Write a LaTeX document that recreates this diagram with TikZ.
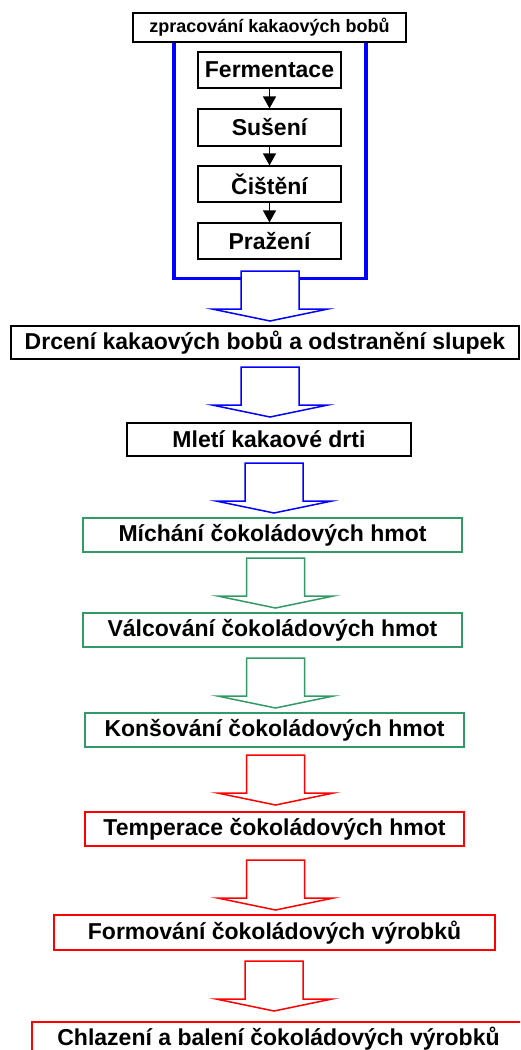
\documentclass[tikz,border=0pt]{standalone}
\usepackage{fontspec}
\setmainfont{Liberation Sans}
\usetikzlibrary{arrows.meta}
\definecolor{pgreen}{RGB}{51,153,102}
\begin{document}
\begin{tikzpicture}[x=1pt,y=-1pt,
  box/.style={draw, fill=white, inner sep=0pt, line width=1.2pt, font=\fontsize{23}{27}\selectfont\bfseries},
  gbox/.style={box, draw=pgreen, line width=2pt},
  rbox/.style={box, draw=red, line width=2pt},
  small/.style={-{Triangle[width=13pt,length=12pt]}, line width=1.4pt},
  frame/.style={draw=blue, line width=3.2pt},
]
\clip (0,0) rectangle (520,1050);
\fill[white] (0,0) rectangle (520,1050);
\newcommand{\barrow}[3]{%
  \draw[#3, line width=1.5pt, fill=white, line join=miter]
    (#1-29,#2) -- (#1+29,#2) -- (#1+29,#2+38) -- (#1+58,#2+38) -- (#1,#2+50)
    -- (#1-58,#2+38) -- (#1-29,#2+38) -- cycle;}
% frame
\draw[frame] (174,42) -- (174,278.5) -- (366,278.5) -- (366,42);
\node[box, minimum width=273pt, minimum height=29pt, font=\fontsize{18}{21}\selectfont\bfseries] (title) at (269.5,27.5) {zpracování kakaových bobů};
\node[box, minimum width=143pt, minimum height=36pt] (ferm) at (269.5,70) {Fermentace};
\node[box, minimum width=143pt, minimum height=37pt] (suse) at (269.5,127.5) {Sušení};
\node[box, minimum width=143pt, minimum height=36pt] (cist) at (269.5,184) {Čištění};
\node[box, minimum width=143pt, minimum height=36pt] (praz) at (269.5,241) {Pražení};
\draw[small] (ferm) -- (suse);
\draw[small] (suse) -- (cist);
\draw[small] (cist) -- (praz);
% main boxes
\node[box, minimum width=508pt, minimum height=33pt] (drc) at (265,342.5) {Drcení kakaových bobů a odstranění slupek};
\node[box, minimum width=284pt, minimum height=33pt] (mle) at (269,439.5) {Mletí kakaové drti};
\node[gbox, minimum width=379pt, minimum height=34pt] (mic) at (272.5,535) {Míchání čokoládových hmot};
\node[gbox, minimum width=379pt, minimum height=34pt] (val) at (272.5,630) {Válcování čokoládových hmot};
\node[gbox, minimum width=379pt, minimum height=34pt] (kon) at (274.5,730) {Konšování čokoládových hmot};
\node[rbox, minimum width=379pt, minimum height=34pt] (tem) at (274.5,829) {Temperace čokoládových hmot};
\node[rbox, minimum width=441pt, minimum height=35pt] (for) at (274.5,932.5) {Formování čokoládových výrobků};
\node[rbox, minimum width=493pt, minimum height=34pt] (chl) at (278.5,1039) {Chlazení a balení čokoládových výrobků};
% block arrows
\barrow{270}{271}{blue}
\barrow{270}{367}{blue}
\barrow{274}{463}{blue}
\barrow{275.5}{558}{pgreen}
\barrow{275.5}{658}{pgreen}
\barrow{275.5}{755}{red}
\barrow{275.5}{860}{red}
\barrow{274}{961}{red}
\end{tikzpicture}
\end{document}
